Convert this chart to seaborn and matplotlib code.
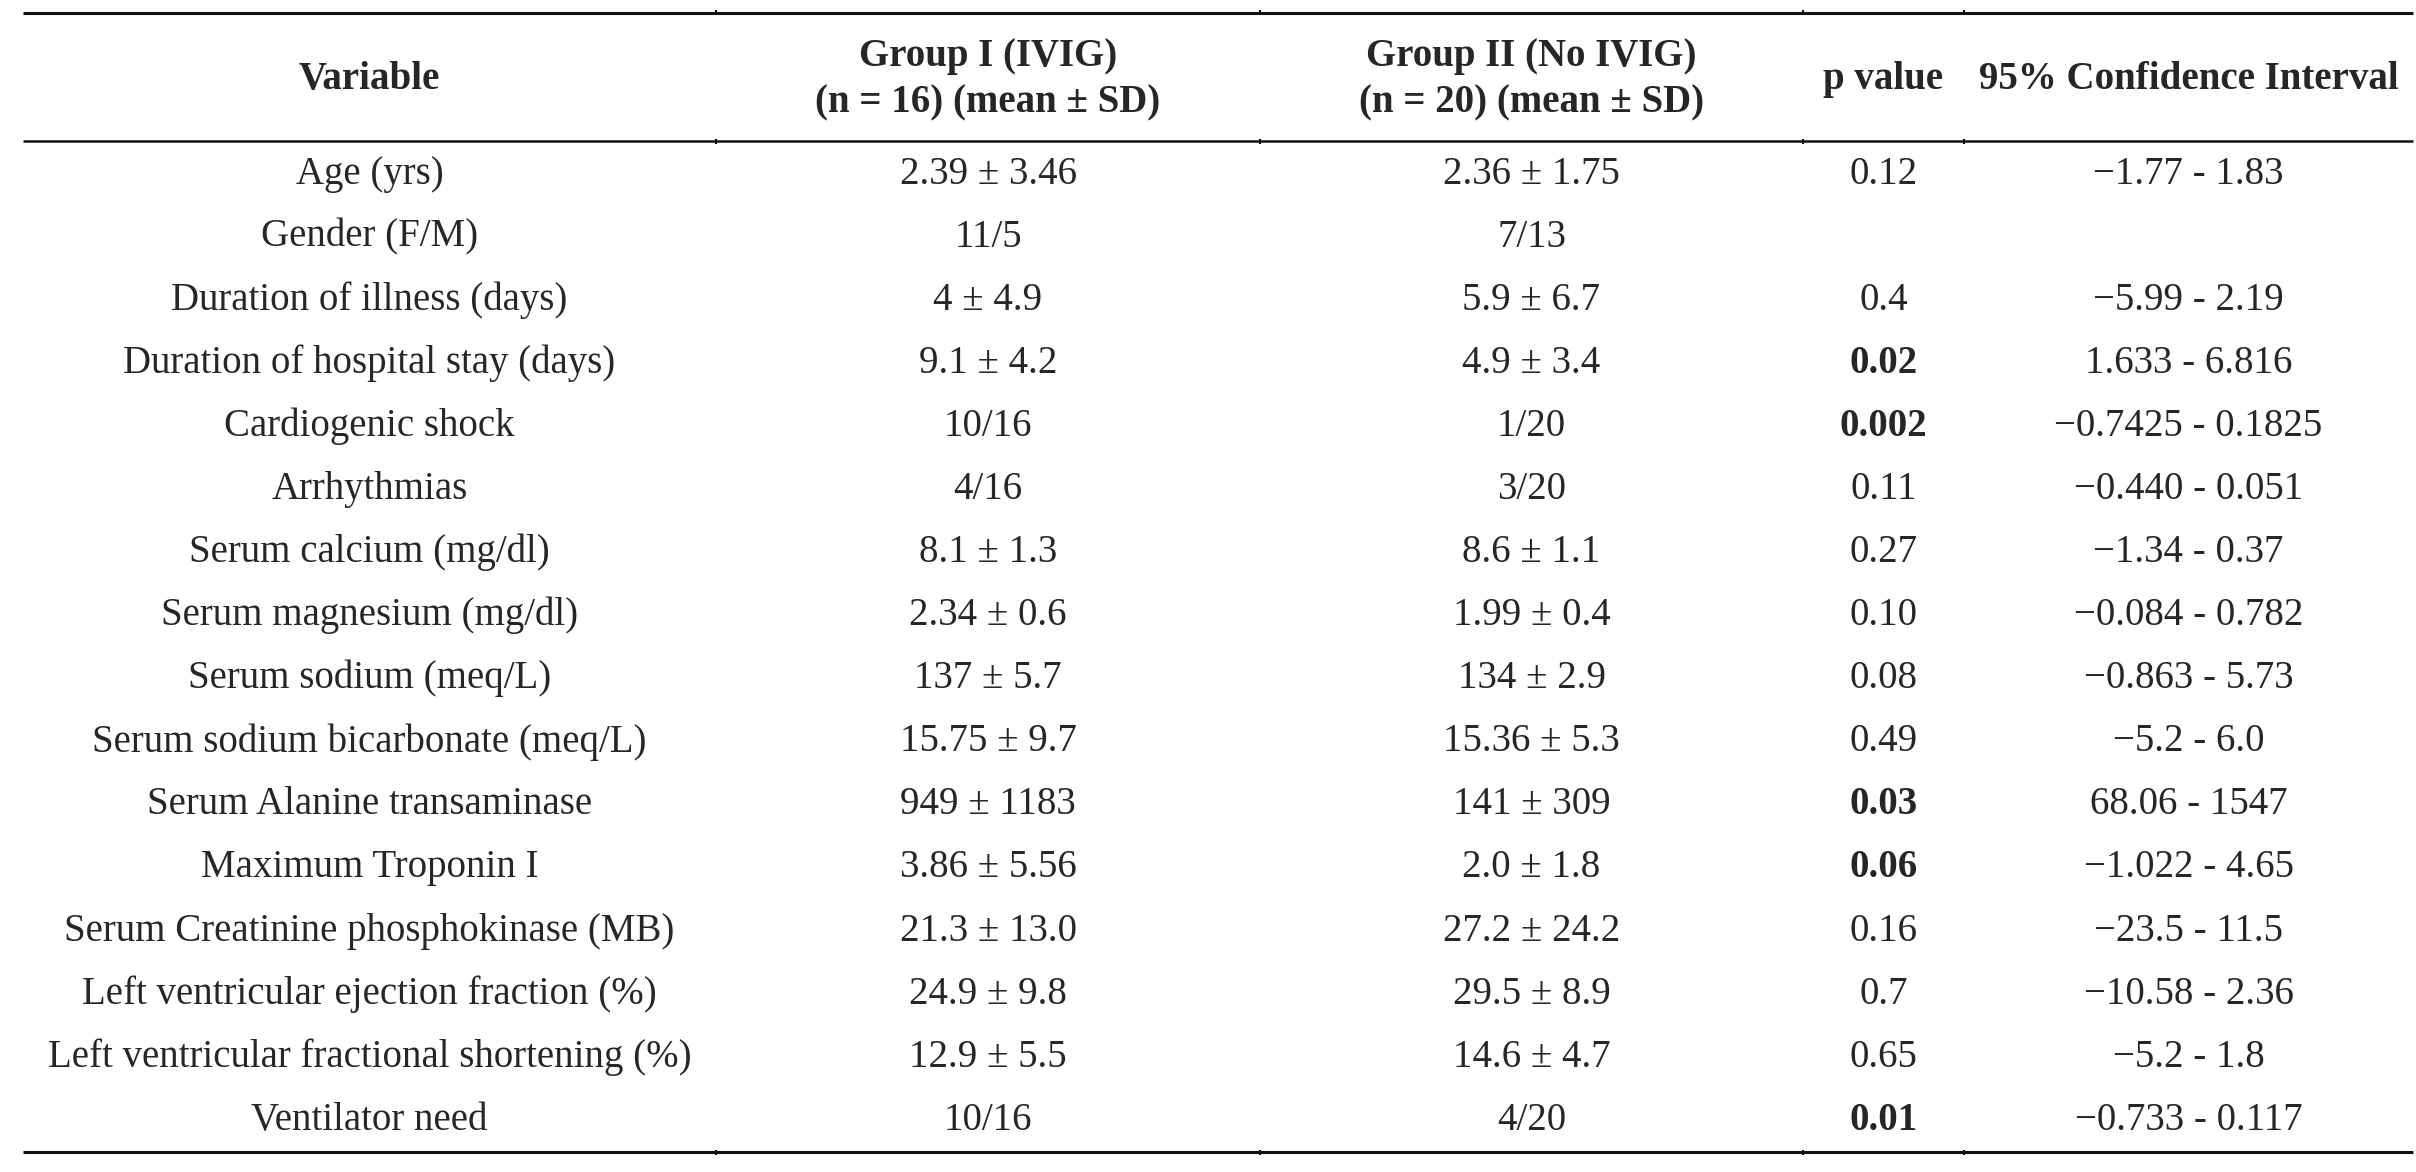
import numpy as np
import pandas as pd
import matplotlib
matplotlib.use("Agg")
import matplotlib.pyplot as plt
import seaborn as sns

# table contents
variables = [
    "Age (yrs)", "Gender (F/M)", "Duration of illness (days)",
    "Duration of hospital stay (days)", "Cardiogenic shock", "Arrhythmias",
    "Serum calcium (mg/dl)", "Serum magnesium (mg/dl)", "Serum sodium (meq/L)",
    "Serum sodium bicarbonate (meq/L)", "Serum Alanine transaminase",
    "Maximum Troponin I", "Serum Creatinine phosphokinase (MB)",
    "Left ventricular ejection fraction (%)",
    "Left ventricular fractional shortening (%)", "Ventilator need",
]
group1 = [
    "2.39 ± 3.46", "11/5", "4 ± 4.9", "9.1 ± 4.2", "10/16", "4/16",
    "8.1 ± 1.3", "2.34 ± 0.6", "137 ± 5.7", "15.75 ± 9.7", "949 ± 1183",
    "3.86 ± 5.56", "21.3 ± 13.0", "24.9 ± 9.8", "12.9 ± 5.5", "10/16",
]
group2 = [
    "2.36 ± 1.75", "7/13", "5.9 ± 6.7", "4.9 ± 3.4", "1/20", "3/20",
    "8.6 ± 1.1", "1.99 ± 0.4", "134 ± 2.9", "15.36 ± 5.3", "141 ± 309",
    "2.0 ± 1.8", "27.2 ± 24.2", "29.5 ± 8.9", "14.6 ± 4.7", "4/20",
]
p_values = [
    "0.12", "", "0.4", "0.02", "0.002", "0.11", "0.27", "0.10", "0.08",
    "0.49", "0.03", "0.06", "0.16", "0.7", "0.65", "0.01",
]
p_bold = [False, False, False, True, True, False, False, False, False,
          False, True, True, False, False, False, True]
ci = [
    "\u22121.77 - 1.83", "", "\u22125.99 - 2.19", "1.633 - 6.816",
    "\u22120.7425 - 0.1825", "\u22120.440 - 0.051", "\u22121.34 - 0.37",
    "\u22120.084 - 0.782", "\u22120.863 - 5.73", "\u22125.2 - 6.0",
    "68.06 - 1547", "\u22121.022 - 4.65", "\u221223.5 - 11.5",
    "\u221210.58 - 2.36", "\u22125.2 - 1.8", "\u22120.733 - 0.117",
]
headers = ["Variable", "Group I (IVIG)\n(n = 16) (mean ± SD)",
           "Group II (No IVIG)\n(n = 20) (mean ± SD)", "p value",
           "95% Confidence Interval"]

df = pd.DataFrame({"Variable": variables, "Group I": group1,
                   "Group II": group2, "p": p_values, "CI": ci})

sns.set_style("white")
plt.rcParams["font.family"] = ["Liberation Serif", "DejaVu Serif"]

fig = plt.figure(figsize=(24.16, 11.72), dpi=100)
ax = fig.add_axes([0, 0, 1, 1])
ax.set_xlim(0, 2416)
ax.set_ylim(15.82, -2.76)
ax.axis("off")

col_edges = [23, 716, 1260, 1803, 1964, 2413]
col_mid = [(a + b) / 2 for a, b in zip(col_edges[:-1], col_edges[1:])]
fs = 28

# horizontal rules
for y, lw in [(-2.56, 2.2), (-0.52, 1.8), (15.51, 2.2)]:
    ax.hlines(y, col_edges[0], col_edges[-1], color="#111111", lw=lw)
    ax.vlines(col_edges[1:-1], y - 0.04, y + 0.04, color="#111111", lw=1.5)

for j, h in enumerate(headers):
    ax.text(col_mid[j], -1.5, h, ha="center", va="center", fontsize=fs,
            fontweight="bold", linespacing=1.35)

for i, row in df.iterrows():
    for j, col in enumerate(df.columns):
        weight = "bold" if (col == "p" and p_bold[i]) else "normal"
        ax.text(col_mid[j], i, row[col], ha="center", va="center",
                fontsize=fs, fontweight=weight)

fig.savefig("out.png", dpi=100, facecolor="white")
